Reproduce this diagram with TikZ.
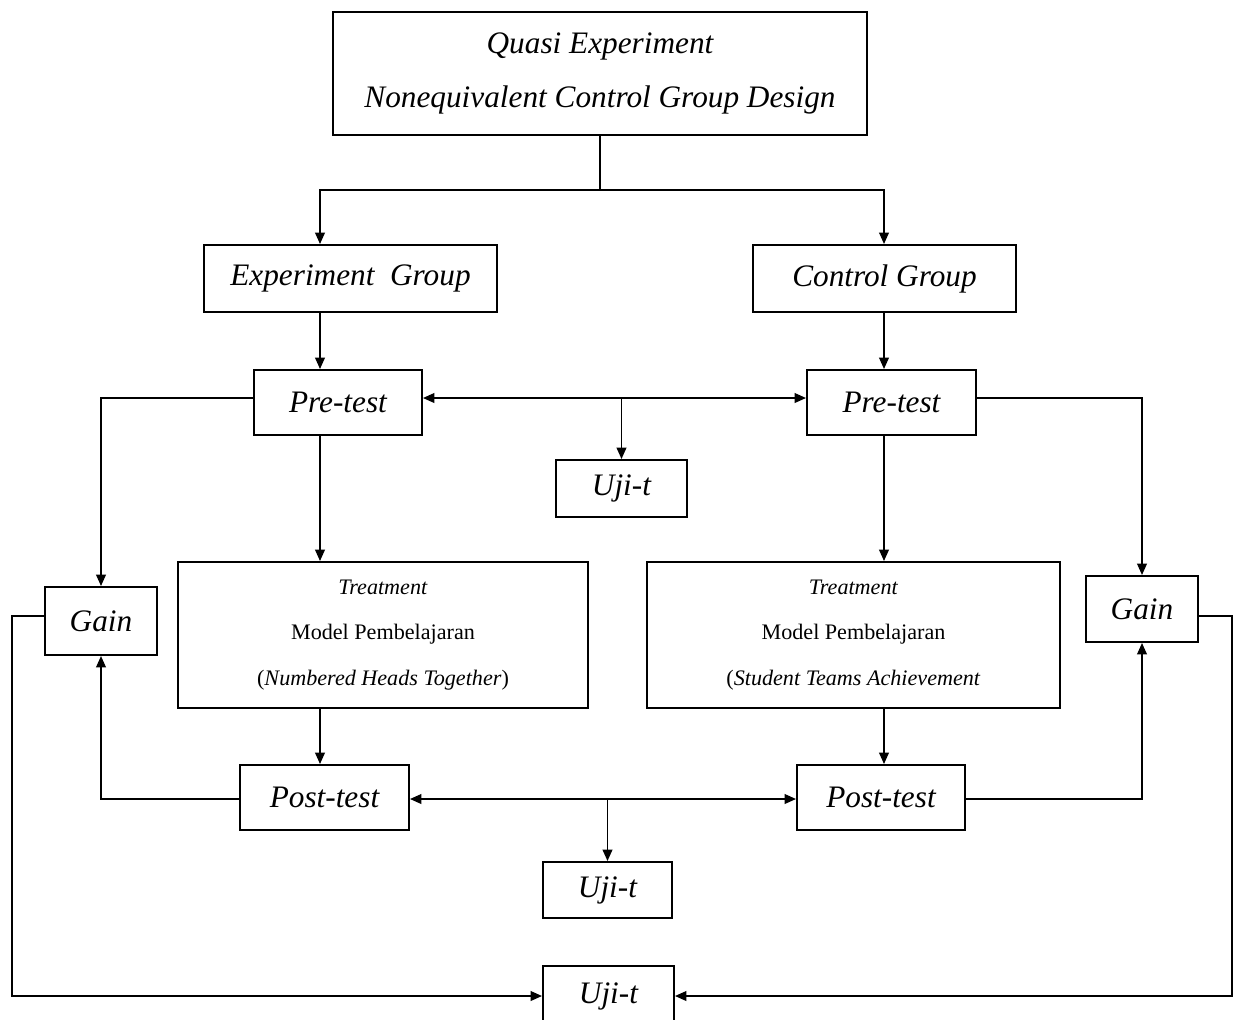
\documentclass[tikz,border=0pt]{standalone}
\usepackage{fontspec}
\setmainfont{Liberation Serif}
\usetikzlibrary{arrows.meta}

\begin{document}
\begin{tikzpicture}[x=0.02cm,y=-0.02cm]
        \tikzstyle{every node}=[draw, line width=1.1pt, inner sep=0pt, align=center,
            font=\fontsize{17.8}{31}\selectfont\itshape];
        \tikzstyle{small}=[font=\fontsize{12.6}{26}\selectfont];
        \tikzstyle{link}=[line width=1.05pt];
        \tikzstyle{arr}=[link, -{Triangle[length=6.5pt,width=5.5pt]}];
        \tikzstyle{arrs}=[link, {Triangle[length=6.5pt,width=5.5pt]}-{Triangle[length=6.5pt,width=5.5pt]}];
        \useasboundingbox (0,0) rectangle (1235,1019);

        % boxes
        \node (design) [minimum width=10.68cm, minimum height=2.46cm] at (600,73.5)
            {Quasi Experiment\\Nonequivalent Control Group Design};
        \node (expg) [minimum width=5.86cm, minimum height=1.34cm] at (350.5,278.5) {Experiment\ \ Group};
        \node (ctrlg) [minimum width=5.26cm, minimum height=1.34cm] at (884.5,278.5) {Control Group};
        \node (preL) [minimum width=3.36cm, minimum height=1.3cm] at (338,402.5) {Pre-test};
        \node (preR) [minimum width=3.38cm, minimum height=1.3cm] at (891.5,402.5) {Pre-test};
        \node (ujiPre) [minimum width=2.62cm, minimum height=1.14cm] at (621.5,488.5) {Uji-t};
        \node (gainL) [minimum width=2.24cm, minimum height=1.36cm] at (101,621) {Gain};
        \node (gainR) [minimum width=2.24cm, minimum height=1.32cm] at (1142,609) {Gain};
        \node (treatL) [small, minimum width=8.2cm, minimum height=2.92cm] at (383,635)
            {\textit{Treatment}\\\upshape Model Pembelajaran\\\upshape(\textit{Numbered Heads Together})};
        \node (treatR) [small, minimum width=8.26cm, minimum height=2.92cm] at (853.5,635)
            {\textit{Treatment}\\\upshape Model Pembelajaran\\\upshape(\textit{Student Teams Achievement}};
        \node (postL) [minimum width=3.38cm, minimum height=1.3cm] at (324.5,797.5) {Post-test};
        \node (postR) [minimum width=3.36cm, minimum height=1.3cm] at (881,797.5) {Post-test};
        \node (ujiPost) [minimum width=2.58cm, minimum height=1.12cm] at (607.5,890) {Uji-t};
        \node (ujiGain) [minimum width=2.62cm, minimum height=1.2cm] at (608.5,996) {Uji-t};

        % helper coordinates
        \coordinate (fork) at (600,190);
        \coordinate (colL) at (320,0);
        \coordinate (colR) at (884,0);
        \coordinate (rowPre) at (0,398);
        \coordinate (rowPost) at (0,799);
        \coordinate (rowGain) at (0,616);
        \coordinate (outL) at (12,0);
        \coordinate (outR) at (1232,0);

        % connectors
        \draw[link] (design.south) -- (fork);
        \draw[arr] (fork) -| (colL |- expg.north);
        \draw[arr] (fork) -| (colR |- ctrlg.north);
        \draw[arr] (colL |- expg.south) -- (colL |- preL.north);
        \draw[arr] (colR |- ctrlg.south) -- (colR |- preR.north);
        \draw[arrs] (preL.east |- rowPre) -- (preR.west |- rowPre);
        \draw[arr] (ujiPre.north |- rowPre) -- (ujiPre.north);
        \draw[arr] (preL.west |- rowPre) -| (gainL.north);
        \draw[arr] (preR.east |- rowPre) -| (gainR.north);
        \draw[arr] (colL |- preL.south) -- (colL |- treatL.north);
        \draw[arr] (colR |- preR.south) -- (colR |- treatR.north);
        \draw[arr] (colL |- treatL.south) -- (colL |- postL.north);
        \draw[arr] (colR |- treatR.south) -- (colR |- postR.north);
        \draw[arrs] (postL.east |- rowPost) -- (postR.west |- rowPost);
        \draw[arr] (ujiPost.north |- rowPost) -- (ujiPost.north);
        \draw[arr] (postL.west |- rowPost) -| (gainL.south);
        \draw[arr] (postR.east |- rowPost) -| (gainR.south);
        \draw[arr] (gainL.west |- rowGain) -- (outL |- rowGain) |- (ujiGain.west);
        \draw[arr] (gainR.east |- rowGain) -- (outR |- rowGain) |- (ujiGain.east);
    \end{tikzpicture}
\end{document}
